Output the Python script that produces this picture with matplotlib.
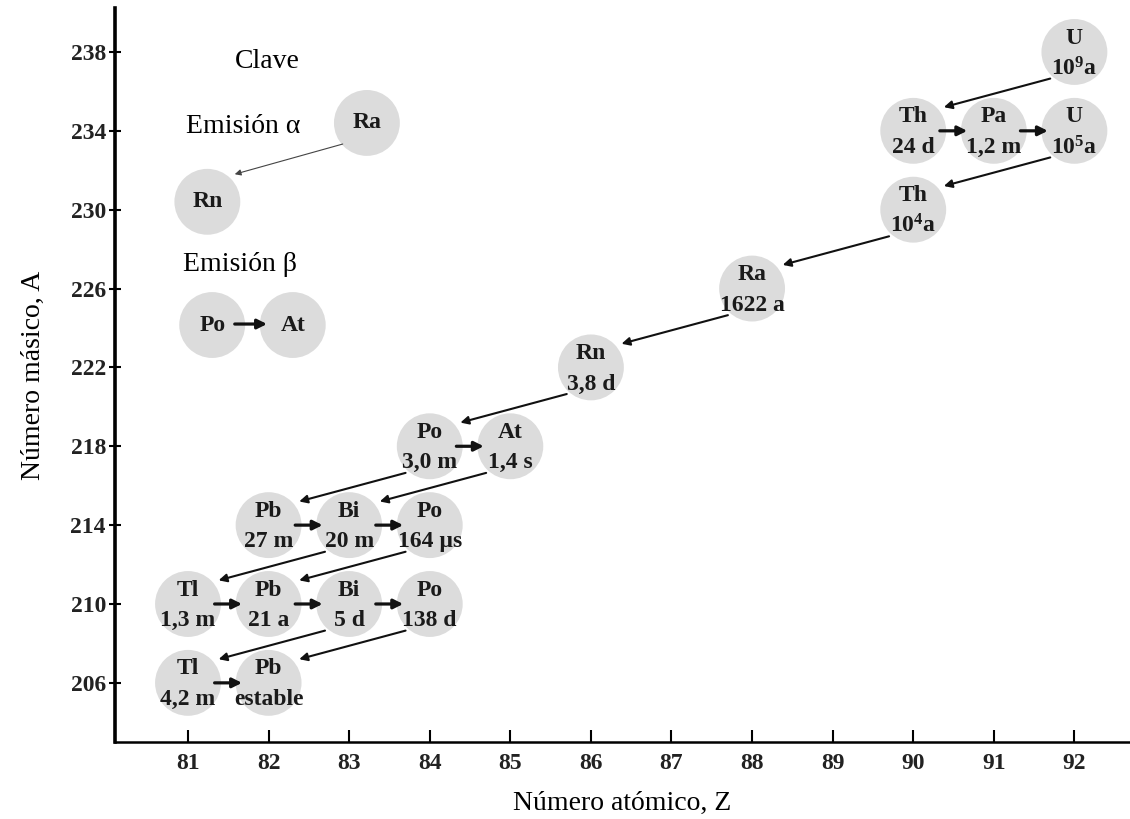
import matplotlib
matplotlib.use('Agg')
import matplotlib.pyplot as plt

# nuclides of the uranium-238 series
symbols = ['U', 'Th', 'Pa', 'U', 'Th', 'Ra', 'Rn', 'Po', 'At', 'Pb', 'Bi', 'Po',
           'Tl', 'Pb', 'Bi', 'Po', 'Tl', 'Pb']
z_values = [92, 90, 91, 92, 90, 88, 86, 84, 85, 82, 83, 84, 81, 82, 83, 84, 81, 82]
a_values = [238, 234, 234, 234, 230, 226, 222, 218, 218, 214, 214, 214,
            210, 210, 210, 210, 206, 206]
half_lives = [r'$\mathregular{10^9}$a', '24 d', '1,2 m', r'$\mathregular{10^5}$a',
              r'$\mathregular{10^4}$a', '1622 a', '3,8 d', '3,0 m', '1,4 s',
              '27 m', '20 m', '164 µs', '1,3 m', '21 a', '5 d', '138 d',
              '4,2 m', 'estable']

# decays as (parent index, daughter index)
alpha_decays = [(0, 1), (3, 4), (4, 5), (5, 6), (6, 7), (7, 9), (8, 10),
                (10, 12), (11, 13), (14, 16), (15, 17)]
beta_decays = [(1, 2), (2, 3), (7, 8), (9, 10), (10, 11), (12, 13), (13, 14),
               (14, 15), (16, 17)]

x_ticks = list(range(81, 93))
y_ticks = list(range(206, 239, 4))

plt.rcParams['font.family'] = ['Liberation Serif', 'DejaVu Serif']
plt.rcParams['mathtext.fontset'] = 'custom'
plt.rcParams['mathtext.rm'] = 'Liberation Serif'
plt.rcParams['mathtext.bf'] = 'Liberation Serif:bold'

fig = plt.figure(figsize=(11.3, 8.19), dpi=100)
ax = fig.add_axes([115 / 1130, 77 / 819, 1015 / 1130, 734 / 819])

circle_color = '#dcdcdc'
circle_size = 2250
node_font = 17

# circles with symbol and half-life
ax.scatter(z_values, a_values, s=circle_size, color=circle_color, zorder=1,
           edgecolors='none')
for z, a, sym, hl in zip(z_values, a_values, symbols, half_lives):
    ax.annotate(sym, (z, a), xytext=(0, 10), textcoords='offset points',
                ha='center', va='center', fontsize=node_font,
                fontweight='bold', color='#1a1a1a', zorder=3)
    if hl.startswith('$'):
        hl = hl.replace('mathregular', 'mathbf')
    ax.annotate(hl, (z, a), xytext=(0, -12), textcoords='offset points',
                ha='center', va='center', fontsize=node_font,
                fontweight='bold', color='#1a1a1a', zorder=3)


def draw_arrow(x0, y0, x1, y1, lw, scale, color='#111111'):
    ax.annotate('', xy=(x1, y1), xytext=(x0, y0),
                arrowprops=dict(arrowstyle='-|>', color=color, lw=lw,
                                mutation_scale=scale, shrinkA=0, shrinkB=0),
                zorder=2)


# alpha arrows: from lower-left of parent to upper-right of daughter
for p, d in alpha_decays:
    draw_arrow(z_values[p] - 0.3, a_values[p] - 1.35,
               z_values[d] + 0.38, a_values[d] + 1.2, 1.5, 12)

# beta arrows: short horizontal ones
for p, d in beta_decays:
    draw_arrow(z_values[p] + 0.33, a_values[p], z_values[p] + 0.67, a_values[d],
               2.3, 14)

# key (Clave)
ax.text(81.98, 237.5, 'Clave', ha='center', va='center', fontsize=20)
ax.text(81.68, 234.2, 'Emisión α', ha='center', va='center', fontsize=20)
ax.text(81.65, 227.2, 'Emisión β', ha='center', va='center', fontsize=20)
key_x = [83.22, 81.24, 81.3, 82.3]
key_y = [234.4, 230.4, 224.15, 224.15]
key_sym = ['Ra', 'Rn', 'Po', 'At']
ax.scatter(key_x, key_y, s=circle_size, color=circle_color, zorder=1,
           edgecolors='none')
for x, y, s in zip(key_x, key_y, key_sym):
    ax.text(x, y, s, ha='center', va='center', fontsize=node_font,
            fontweight='bold', color='#1a1a1a', zorder=3)
draw_arrow(82.92, 233.33, 81.58, 231.8, 0.8, 9, color='#444444')
draw_arrow(81.58, 224.2, 81.98, 224.2, 2.3, 14)

# axes styling
ax.set_xlim(80.094, 92.69)
ax.set_ylim(203.0, 240.23)
ax.set_xticks(x_ticks)
ax.set_yticks(y_ticks)
ax.spines['top'].set_visible(False)
ax.spines['right'].set_visible(False)
ax.spines['left'].set_linewidth(2.6)
ax.spines['bottom'].set_linewidth(1.8)
ax.tick_params(axis='x', direction='in', length=9, width=1.5, pad=8,
               labelsize=17)
ax.tick_params(axis='y', direction='inout', length=9, width=1.5, pad=2,
               labelsize=17)
for lbl in ax.get_xticklabels() + ax.get_yticklabels():
    lbl.set_fontweight('bold')
    lbl.set_color('#222222')

ax.set_xlabel('Número atómico, Z', fontsize=20, labelpad=12)
ax.set_ylabel('Número másico, A', fontsize=20, labelpad=18)

plt.savefig('out.png', dpi=100)
